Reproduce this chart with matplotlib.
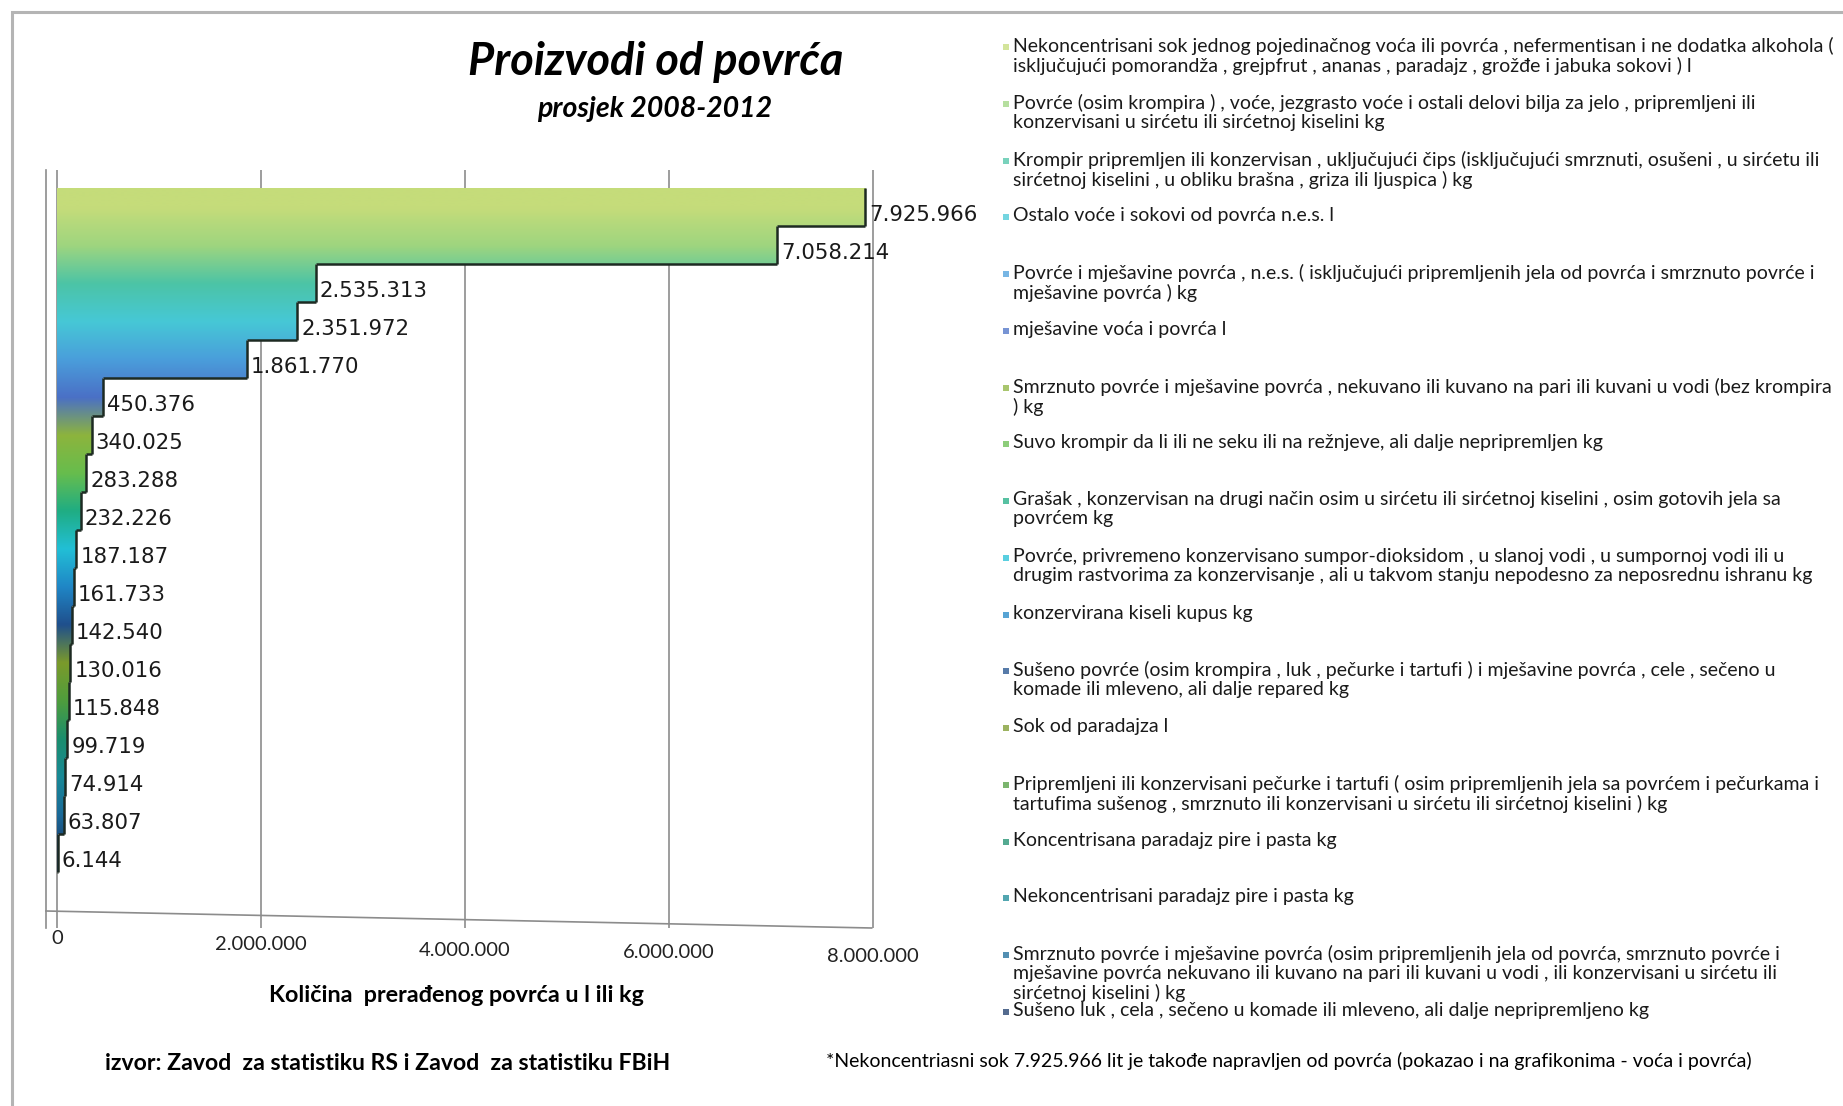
import matplotlib

matplotlib.use("Agg")

import matplotlib.pyplot as plt
import numpy as np
from matplotlib.colors import to_rgb
from matplotlib.patches import Rectangle

W, H = 1843, 1106

# values (l or kg), top bar first
values = [
    7925966, 7058214, 2535313, 2351972, 1861770, 450376, 340025, 283288, 232226,
    187187, 161733, 142540, 130016, 115848, 99719, 74914, 63807, 6144,
]

bar_colors = [
    "#c5dc7a", "#9ed57f", "#4cc4a6", "#46c8d6", "#4a9edb", "#4a70c6",
    "#8db43d", "#67bd4d", "#1fad83", "#22bfd6", "#1f86c6", "#1f4f8c",
    "#7b9a2b", "#4f9d3d", "#1b8e6d", "#188996", "#1a6a99", "#1b3a6a",
]

legend_labels = [
    "Nekoncentrisani sok jednog pojedinačnog voća ili povrća , nefermentisan i ne dodatka alkohola (\n"
    "isključujući pomorandža , grejpfrut , ananas , paradajz , grožđe i jabuka sokovi ) l",
    "Povrće (osim krompira ) , voće, jezgrasto voće i ostali delovi bilja za jelo , pripremljeni ili\n"
    "konzervisani u sirćetu ili sirćetnoj kiselini kg",
    "Krompir pripremljen ili konzervisan , uključujući čips (isključujući smrznuti, osušeni , u sirćetu ili\n"
    "sirćetnoj kiselini , u obliku brašna , griza ili ljuspica ) kg",
    "Ostalo voće i sokovi od povrća n.e.s. l",
    "Povrće i mješavine povrća , n.e.s. ( isključujući pripremljenih jela od povrća i smrznuto povrće i\n"
    "mješavine povrća ) kg",
    "mješavine voća i povrća l",
    "Smrznuto povrće i mješavine povrća , nekuvano ili kuvano na pari ili kuvani u vodi (bez krompira\n"
    ") kg",
    "Suvo krompir da li ili ne seku ili na režnjeve, ali dalje nepripremljen kg",
    "Grašak , konzervisan na drugi način osim u sirćetu ili sirćetnoj kiselini , osim gotovih jela sa\n"
    "povrćem kg",
    "Povrće, privremeno konzervisano sumpor-dioksidom , u slanoj vodi , u sumpornoj vodi ili u\n"
    "drugim rastvorima za konzervisanje , ali u takvom stanju nepodesno za neposrednu ishranu kg",
    "konzervirana kiseli kupus kg",
    "Sušeno povrće (osim krompira , luk , pečurke i tartufi ) i mješavine povrća , cele , sečeno u\n"
    "komade ili mleveno, ali dalje repared kg",
    "Sok od paradajza l",
    "Pripremljeni ili konzervisani pečurke i tartufi ( osim pripremljenih jela sa povrćem i pečurkama i\n"
    "tartufima sušenog , smrznuto ili konzervisani u sirćetu ili sirćetnoj kiselini ) kg",
    "Koncentrisana paradajz pire i pasta kg",
    "Nekoncentrisani paradajz pire i pasta kg",
    "Smrznuto povrće i mješavine povrća (osim pripremljenih jela od povrća, smrznuto povrće i\n"
    "mješavine povrća nekuvano ili kuvano na pari ili kuvani u vodi , ili konzervisani u sirćetu ili\n"
    "sirćetnoj kiselini ) kg",
    "Sušeno luk , cela , sečeno u komade ili mleveno, ali dalje nepripremljeno kg",
]

x_ticks = [0, 2000000, 4000000, 6000000, 8000000]

title = "Proizvodi od povrća"
subtitle = "prosjek 2008-2012"
x_title = "Količina  prerađenog povrća u l ili kg"
source = "izvor: Zavod  za statistiku RS i Zavod  za statistiku FBiH"
footnote = ("*Nekoncentriasni sok 7.925.966 lit je takođe napravljen od povrća "
            "(pokazao i na grafikonima - voća i povrća)")


def fmt(v: float) -> str:
    return f"{int(v):,}".replace(",", ".")


def fx(px: float) -> float:
    return px / W


def fy(py: float) -> float:
    return 1 - py / H


FONT = ["Lato", "DejaVu Sans"]

fig = plt.figure(figsize=(W / 100, H / 100), dpi=100)
fig.patch.set_facecolor("white")

# outer chart frame
fig.add_artist(Rectangle((fx(12), -0.02), 1.0, fy(12) + 0.02, transform=fig.transFigure,
                         fill=False, edgecolor="#b4b4b4", lw=2.2))

ax_left, ax_right, ax_top, ax_bottom = 46, 880, 170, 928
ax = fig.add_axes([fx(ax_left), fy(ax_bottom), fx(ax_right - ax_left), (ax_bottom - ax_top) / H])

n = len(values)
y = np.arange(n)
vals = np.array(values, dtype=float)
xmax = 8070000

bars = ax.barh(y, vals, height=1.0, color=bar_colors, edgecolor="none", zorder=2)

# smooth vertical shading between neighbouring bars
rgb = np.array([to_rgb(c) for c in bar_colors])
fine = np.linspace(-0.5, n - 0.5, n * 24)
grad = np.stack([np.interp(fine, y, rgb[:, k]) for k in range(3)], axis=-1)[:, None, :]
for bar in bars:
    im = ax.imshow(grad, extent=(0, xmax, n - 0.5, -0.5), aspect="auto",
                   interpolation="bilinear", zorder=3)
    im.set_clip_path(bar)

# dark outline on exposed step edges
next_vals = np.append(vals[1:], 0)
ax.vlines(vals, y - 0.5, y + 0.5, color="#1d2a22", lw=1.8, zorder=4)
ax.hlines(y + 0.5, next_vals, vals, color="#1d2a22", lw=1.8, zorder=4)

for yi, v in zip(y, vals):
    ax.annotate(fmt(v), (v, yi + 0.22), xytext=(3, 0), textcoords="offset points",
                va="center", ha="left", fontsize=15.3, color="#1a1a1a",
                family="DejaVu Sans", zorder=5)

ax.set_xlim(-0.108e6, xmax)
ax.set_ylim(n - 0.5 + (ax_bottom - 872) / 38, -0.5 - 18 / 38)
ax.set_xticks(x_ticks)
ax.set_xticklabels([])
ax.tick_params(axis="x", length=0)
ax.set_yticks([])
ax.grid(axis="x", color="#8c8c8c", lw=1.2, zorder=0)
for side in ("top", "right", "bottom"):
    ax.spines[side].set_visible(False)
ax.spines["left"].set_color("#8c8c8c")
ax.spines["left"].set_linewidth(1.2)
# slanted floor of the 3d box
ax.plot([0, 0.99], [(ax_bottom - 911) / (ax_bottom - ax_top), 0], transform=ax.transAxes,
        color="#8c8c8c", lw=1.2, clip_on=False)

# tick labels follow the tilted floor
tick_drop = [939, 945, 950, 953, 957]
for t, py in zip(x_ticks, tick_drop):
    ax.text(t, -(py - ax_bottom) / (ax_bottom - ax_top), fmt(t), transform=ax.get_xaxis_transform(),
            ha="center", va="center", fontsize=14.5, family=FONT, color="#222222")

fig.text(fx(656), fy(62), title, ha="center", va="center", fontsize=32.5, fontweight="bold",
         fontstyle="italic", family=FONT)
fig.text(fx(655), fy(109), subtitle, ha="center", va="center", fontsize=20.5, fontweight="bold",
         fontstyle="italic", family=FONT)
fig.text(fx(456), fy(996), x_title, ha="center", va="center", fontsize=16.8, fontweight="bold",
         family=FONT)
fig.text(fx(388), fy(1064), source, ha="center", va="center", fontsize=16.6, fontweight="bold",
         family=FONT)
fig.text(fx(826), fy(1061), footnote, ha="left", va="center", fontsize=14, family=FONT)

# legend, top to bottom like the bars
for i, (lab, col) in enumerate(zip(legend_labels, bar_colors)):
    py = 47 + 56.76 * i
    fig.add_artist(Rectangle((fx(1003), fy(py + 3)), fx(6), 6 / H, transform=fig.transFigure,
                             facecolor=col, edgecolor="none", alpha=0.75))
    fig.text(fx(1013), fy(py - 10), lab, ha="left", va="top", fontsize=14, family=FONT,
             linespacing=1.13, color="#1a1a1a")

fig.savefig("out.png", dpi=100)
plt.close(fig)
